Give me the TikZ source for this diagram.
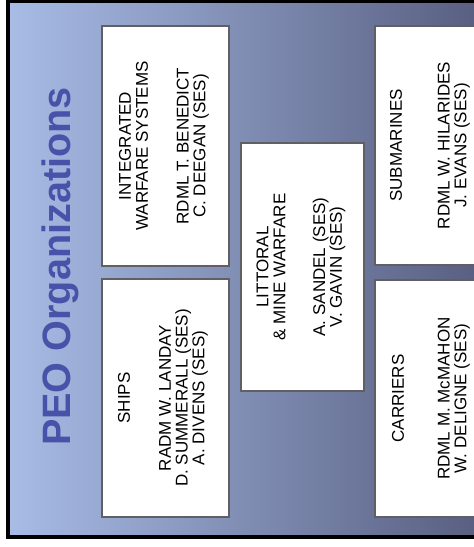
\documentclass[tikz,border=0pt]{standalone}
\usepackage{fontspec}
\setmainfont{Liberation Sans}
\definecolor{bgL}{RGB}{168,188,230}
\definecolor{bgM}{RGB}{134,151,204}
\definecolor{bgR}{RGB}{86,92,126}
\definecolor{titleblue}{RGB}{72,82,168}
\definecolor{boxedge}{RGB}{95,95,100}
\tikzset{
  orgbox/.style={draw=boxedge, line width=1.2pt, fill=white},
  orgtext/.style={rotate=90, align=center, inner sep=0pt,
    font=\fontsize{17}{16.8}\selectfont, text=black},
}
\begin{document}
\begin{tikzpicture}[x=1pt,y=-1pt]
\useasboundingbox (0,0) rectangle (474,547);
\clip (0,0) rectangle (474,547);
% background frame
\shade[left color=bgL, middle color=bgM, right color=bgR] (8,0.5) rectangle (492,536.5);
\draw[line width=4pt] (8,0.5) rectangle (492,536.5);
% title
\node[rotate=90, anchor=base, inner sep=0pt, text=titleblue,
      font=\bfseries\fontsize{39.6}{40}\selectfont] (title) at (70,266.5) {PEO Organizations};
% boxes
\draw[orgbox] (102,26) rectangle (229,266);
\draw[orgbox] (102,279) rectangle (229,517);
\draw[orgbox] (241,143) rectangle (364,391);
\draw[orgbox] (375,26) rectangle (502,265);
\draw[orgbox] (375,280) rectangle (502,517);
% texts
\node[orgtext] (iws) at (164,146) {INTEGRATED\\WARFARE SYSTEMS\\[24pt]RDML T. BENEDICT\\C. DEEGAN (SES)};
\node[orgtext] (ships) at (163,398) {SHIPS\\[24pt]RADM W. LANDAY\\D. SUMMERALL (SES)\\A. DIVENS (SES)};
\node[orgtext] (littoral) at (301,267) {LITTORAL\\\& MINE WARFARE\\[23pt]A. SANDEL (SES)\\V. GAVIN (SES)};
\node[orgtext] (subs) at (430,145.5) {SUBMARINES\\[31pt]RDML W. HILARIDES\\J. EVANS (SES)};
\node[orgtext] (carriers) at (431,398.5) {CARRIERS\\[29pt]RDML M. McMAHON\\W. DELIGNE (SES)};
\end{tikzpicture}
\end{document}
